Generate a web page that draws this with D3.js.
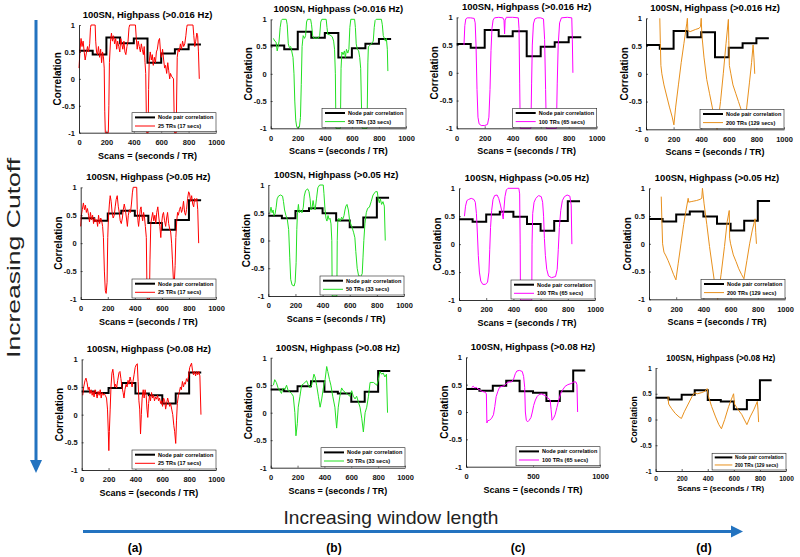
<!DOCTYPE html>
<html><head><meta charset="utf-8">
<script src="https://cdn.jsdelivr.net/npm/d3@7"></script>
<style>
body{margin:0;background:#fff}
svg{display:block}
text{font-family:"Liberation Sans",Arial,sans-serif}
</style>
</head><body>
<svg id="c" width="800" height="557"></svg>
<script>
// ---------------- DATA ----------------
const cutoffs = ["0.016", "0.05", "0.08"];
const windowLabels = ["25 TRs (17 secs)", "50 TRs (33 secs)", "100 TRs (65 secs)", "200 TRs (129 secs)"];
const seriesColors = ["#ff0000", "#22e022", "#ff00ff", "#e8901c"];
const columnLabels = ["(a)", "(b)", "(c)", "(d)"];
const xTicksDefault = [0, 200, 400, 600, 800, 1000];
const xTicksWide = [0, 500, 1000];
const yTicks = [-1, -0.5, 0, 0.5, 1];

// node pair correlation: step starts (scans) and value per step
const stepStarts = [0, 100, 200, 300, 400, 500, 600, 700, 800];
const stepEnd = 890;
const nodeCorr016 = [0.52, 0.45, 0.77, 0.66, 0.75, 0.30, 0.47, 0.55, 0.64];
const nodeCorr05  = [0.445, 0.40, 0.53, 0.58, 0.49, 0.36, 0.24, 0.415, 0.77];
const nodeCorr08  = [0.42, 0.39, 0.48, 0.57, 0.38, 0.35, 0.20, 0.38, 0.76];

// sliding-window correlations [scan, correlation]
const tr25_016 = [[0,0.2],[8,0.55],[15,0.75],[22,0.6],[30,0.7],[38,0.5],[45,0.35],[55,0.5],[62,0.6],[70,0.5],[78,0.65],[84,0.95],[88,1],[118,1],[122,0.7],[128,0.5],[135,0.45],[142,0.6],[150,0.4],[158,0.55],[165,0.3],[172,0.5],[178,0.42],[184,0.2],[188,-0.6],[192,-1],[214,-1],[218,-0.5],[222,0.3],[230,0.7],[237,0.85],[244,0.7],[252,0.8],[260,0.65],[268,0.75],[275,0.55],[282,0.7],[290,0.6],[298,0.5],[305,0.75],[312,0.65],[320,0.55],[328,0.7],[335,0.5],[342,0.45],[350,0.6],[358,0.7],[365,0.95],[370,1],[412,1],[418,0.75],[425,0.55],[432,0.7],[440,0.6],[448,0.5],[455,0.65],[462,0.55],[470,0.45],[476,0.6],[482,0.3],[487,0.1],[491,-0.6],[494,-1],[505,-1],[508,-0.2],[512,0.3],[520,0.5],[528,0.35],[535,0.45],[542,0.25],[550,0.4],[558,0.3],[565,0.5],[572,0.55],[580,0.7],[588,0.75],[595,0.5],[602,0.4],[610,0.55],[618,0.35],[625,0.2],[632,0.25],[640,0.1],[648,0.3],[655,0.15],[662,0.0],[668,0.1],[675,0.05],[690,0.0],[694,-0.6],[697,-1],[710,-1],[713,-0.3],[717,0.4],[724,0.55],[732,0.5],[740,0.65],[748,0.55],[756,0.7],[764,0.6],[772,0.65],[780,0.8],[786,0.95],[790,1],[832,1],[838,0.8],[845,0.6],[852,0.7],[860,0.85],[866,0.8],[872,0.5],[878,0.0]];
const tr50_016 = [[20,0.65],[30,0.6],[40,0.58],[48,0.42],[55,0.5],[62,0.6],[70,0.85],[78,0.98],[85,1],[115,1],[122,0.9],[130,0.55],[138,0.48],[148,0.5],[155,0.42],[165,0.3],[172,0.0],[178,-0.5],[185,-0.85],[192,-0.97],[200,-1],[212,-0.98],[220,-0.8],[226,-0.2],[232,0.5],[240,0.7],[250,0.65],[258,0.7],[265,0.95],[272,1],[295,1],[302,0.9],[310,0.7],[320,0.65],[335,0.66],[350,0.65],[362,0.7],[370,0.95],[378,1],[410,1],[416,0.85],[422,0.72],[432,0.72],[445,0.7],[455,0.68],[465,0.6],[472,0.45],[478,0.0],[482,-1],[515,-1],[520,0.1],[526,0.4],[535,0.35],[545,0.42],[552,0.3],[560,0.45],[570,0.38],[578,0.45],[585,0.85],[592,1],[620,1],[626,0.85],[632,0.55],[640,0.45],[650,0.42],[658,0.3],[665,0.1],[672,-0.7],[676,-1],[712,-1],[718,0.2],[722,0.5],[732,0.52],[745,0.55],[758,0.6],[765,0.85],[772,0.98],[780,1],[818,1],[825,0.9],[832,0.7],[840,0.65],[848,0.6],[855,0.65],[862,0.45],[866,0.05]];
const tr100_016 = [[52,0.5],[58,0.85],[65,0.97],[75,0.99],[100,0.99],[125,0.98],[132,0.9],[138,0.5],[145,-0.3],[152,-0.8],[160,-0.92],[175,-0.95],[200,-0.95],[220,-0.93],[230,-0.8],[238,-0.3],[245,0.4],[252,0.8],[260,0.95],[270,0.99],[300,1],[330,0.99],[338,0.95],[342,0.7],[346,0.95],[355,1],[400,1],[440,0.99],[445,0.8],[450,-0.2],[454,-1],[530,-1],[535,-0.2],[540,0.5],[548,0.88],[558,0.97],[575,0.99],[600,0.99],[620,0.97],[628,0.6],[635,-0.3],[640,-1],[712,-1],[718,-0.2],[725,0.5],[735,0.9],[748,0.99],[790,1],[822,0.99],[826,0.6],[830,0.0]];
const tr200_016 = [[100,1],[104,0.55],[108,0.15],[115,0.0],[130,-0.2],[150,-0.4],[170,-0.6],[190,-0.78],[202,-0.92],[215,-0.6],[235,-0.2],[255,0.2],[275,0.55],[295,0.9],[300,1],[303,0.78],[320,0.76],[340,0.78],[360,0.8],[385,0.82],[395,0.85],[400,1],[405,0.7],[420,0.3],[440,-0.1],[460,-0.35],[480,-0.6],[500,-0.85],[515,-1],[540,-0.5],[560,0.0],[580,0.55],[597,0.98],[600,0.6],[604,0.15],[615,0.0],[630,-0.2],[650,-0.35],[670,-0.5],[690,-0.65],[705,-0.85],[715,-0.95],[730,-0.6],[750,-0.15],[765,0.2],[776,0.52],[782,0.3],[788,0.0]];

const tr25_05 = [[0,0.3],[5,0.5],[12,0.6],[20,0.72],[28,0.6],[35,0.68],[42,0.55],[50,0.62],[58,0.5],[65,0.38],[72,0.55],[80,0.42],[88,0.5],[95,0.35],[102,0.45],[110,0.38],[118,0.42],[125,0.3],[132,0.5],[140,0.35],[148,0.45],[155,0.4],[162,0.3],[168,0.1],[175,-0.5],[182,-0.85],[188,-0.9],[195,-0.7],[200,0.1],[205,0.45],[212,0.7],[218,0.85],[225,0.75],[232,0.55],[240,0.45],[248,0.5],[255,0.65],[262,0.78],[270,0.85],[278,0.65],[285,0.55],[292,0.4],[300,0.35],[308,0.45],[315,0.6],[322,0.7],[330,0.6],[338,0.45],[345,0.3],[352,0.5],[360,0.6],[368,0.55],[375,0.7],[382,0.9],[388,1],[414,1],[418,0.6],[423,0.4],[428,0.3],[434,0.45],[440,0.6],[446,0.65],[452,0.5],[458,0.4],[465,0.55],[472,0.45],[478,0.3],[485,0.1],[489,-0.7],[492,-1],[508,-1],[512,-0.3],[518,0.35],[525,0.45],[532,0.55],[540,0.4],[548,0.5],[555,0.35],[562,0.55],[570,0.65],[578,0.45],[585,0.3],[592,0.1],[598,0.35],[605,0.5],[612,0.55],[620,0.4],[628,0.3],[635,0.45],[642,0.55],[650,0.35],[658,0.25],[665,0.2],[672,0.0],[678,-0.3],[685,-0.65],[692,-0.7],[698,-0.4],[703,0.1],[710,0.4],[716,0.55],[722,0.5],[730,0.6],[738,0.65],[745,0.55],[752,0.6],[760,0.75],[768,0.55],[775,0.5],[782,0.6],[790,0.8],[798,0.92],[805,0.88],[812,0.75],[820,0.85],[828,0.7],[835,0.65],[842,0.8],[850,0.75],[858,0.8],[865,0.6],[872,0.0]];
const tr50_05 = [[12,0.5],[20,0.6],[28,0.5],[35,0.55],[42,0.45],[50,0.48],[58,0.6],[65,0.75],[75,0.8],[90,0.82],[105,0.8],[112,0.7],[120,0.55],[130,0.45],[140,0.38],[150,0.2],[158,-0.3],[165,-0.7],[175,-0.8],[190,-0.82],[198,-0.75],[205,-0.4],[210,0.2],[215,0.5],[222,0.65],[228,0.5],[238,0.55],[248,0.5],[258,0.6],[265,0.8],[275,0.9],[290,0.93],[300,0.88],[308,0.75],[315,0.55],[322,0.58],[330,0.72],[338,0.6],[345,0.55],[355,0.75],[365,0.95],[378,1],[405,1],[410,0.85],[418,0.55],[425,0.4],[432,0.35],[440,0.45],[448,0.38],[455,0.4],[462,0.3],[468,0.0],[471,-1],[505,-1],[508,0.0],[512,0.35],[520,0.4],[530,0.35],[540,0.42],[548,0.38],[558,0.45],[565,0.55],[572,0.62],[580,0.65],[590,0.55],[600,0.35],[615,0.25],[628,0.15],[638,0.05],[645,-0.2],[655,-0.5],[665,-0.63],[680,-0.65],[692,-0.6],[698,-0.3],[704,0.0],[712,0.3],[722,0.5],[732,0.58],[745,0.6],[758,0.7],[772,0.82],[790,0.88],[803,0.88],[810,0.75],[818,0.68],[826,0.75],[835,0.65],[845,0.7],[855,0.62],[862,0.0]];
const tr100_05 = [[40,0.5],[48,0.68],[58,0.78],[70,0.8],[90,0.82],[110,0.8],[120,0.75],[128,0.55],[135,0.2],[142,-0.2],[150,-0.5],[160,-0.66],[175,-0.72],[195,-0.72],[210,-0.68],[220,-0.5],[226,-0.1],[232,0.3],[240,0.6],[250,0.8],[262,0.87],[280,0.88],[292,0.82],[305,0.7],[318,0.55],[325,0.45],[330,0.62],[338,0.85],[348,0.97],[360,1],[440,1],[446,0.9],[450,0.0],[452,-1],[535,-1],[537,0.0],[542,0.55],[552,0.75],[565,0.82],[585,0.87],[605,0.85],[615,0.75],[622,0.5],[628,0.1],[635,-0.2],[645,-0.45],[658,-0.57],[680,-0.6],[710,-0.58],[722,-0.45],[730,-0.1],[738,0.3],[748,0.6],[760,0.78],[775,0.85],[795,0.88],[815,0.86],[825,0.7],[830,0.0]];
const tr200_05 = [[90,0.85],[95,0.4],[100,0.0],[110,-0.15],[125,-0.22],[140,-0.3],[160,-0.42],[180,-0.55],[198,-0.65],[215,-0.35],[235,0.0],[255,0.35],[272,0.6],[288,0.82],[292,0.75],[310,0.76],[330,0.77],[350,0.78],[375,0.8],[388,0.82],[393,1],[405,0.72],[425,0.35],[445,-0.05],[465,-0.4],[485,-0.75],[505,-1],[530,-0.55],[555,-0.05],[575,0.4],[590,0.6],[593,0.1],[600,0.0],[620,-0.2],[640,-0.32],[660,-0.45],[680,-0.55],[698,-0.63],[720,-0.3],[740,0.0],[760,0.25],[780,0.45],[785,0.2],[790,0.0]];

const tr25_08 = [[8,0.35],[15,0.5],[25,0.62],[32,0.66],[40,0.58],[48,0.45],[55,0.5],[62,0.38],[70,0.45],[78,0.35],[85,0.42],[92,0.32],[100,0.45],[108,0.38],[115,0.3],[122,0.42],[130,0.35],[138,0.45],[145,0.3],[152,0.4],[160,0.35],[168,0.38],[175,0.35],[185,0.3],[192,0.1],[198,-0.3],[202,-0.65],[206,-0.3],[212,0.1],[218,0.5],[225,0.75],[232,0.82],[238,0.7],[245,0.5],[252,0.55],[260,0.48],[268,0.62],[278,0.76],[285,0.78],[292,0.65],[300,0.5],[308,0.4],[315,0.3],[322,0.45],[330,0.55],[338,0.5],[345,0.62],[352,0.55],[360,0.68],[368,0.6],[375,0.5],[382,0.6],[390,0.72],[398,0.85],[406,0.9],[414,0.92],[420,0.6],[426,0.25],[432,0.1],[438,-0.35],[444,0.0],[450,0.3],[458,0.45],[465,0.3],[472,0.45],[480,0.35],[486,0.1],[492,-0.05],[498,0.2],[505,0.35],[512,0.25],[520,0.4],[528,0.3],[535,0.35],[542,0.25],[550,0.32],[558,0.28],[565,0.35],[572,0.25],[580,0.3],[588,0.2],[595,0.25],[602,0.15],[610,0.3],[618,0.25],[625,0.1],[632,0.2],[640,0.3],[648,0.22],[655,0.15],[662,0.2],[670,0.1],[678,0.0],[686,-0.2],[692,-0.3],[700,-0.52],[706,-0.1],[712,0.2],[720,0.35],[728,0.42],[735,0.5],[742,0.45],[750,0.6],[758,0.5],[765,0.58],[772,0.55],[780,0.65],[788,0.6],[796,0.7],[804,0.85],[812,0.9],[818,0.93],[825,0.8],[832,0.72],[840,0.78],[848,0.7],[856,0.78],[864,0.72],[872,0.78],[880,0.7],[888,0.0]];
const tr50_08 = [[20,0.5],[30,0.6],[42,0.55],[55,0.45],[68,0.4],[80,0.35],[92,0.45],[105,0.42],[118,0.5],[130,0.4],[142,0.38],[155,0.35],[168,0.3],[180,0.0],[188,-0.42],[198,-0.2],[205,0.1],[218,0.3],[230,0.5],[242,0.52],[255,0.55],[268,0.58],[280,0.5],[292,0.45],[305,0.5],[322,0.7],[330,0.65],[342,0.5],[355,0.3],[368,0.1],[380,0.25],[392,0.45],[405,0.6],[417,0.84],[425,0.75],[438,0.6],[448,0.5],[462,0.3],[478,0.1],[491,-0.28],[503,0.1],[515,0.3],[528,0.45],[540,0.4],[565,0.35],[590,0.3],[603,0.4],[615,0.3],[628,0.25],[640,0.3],[652,0.2],[665,0.1],[678,-0.1],[690,-0.35],[703,0.0],[715,0.1],[728,0.3],[740,0.55],[765,0.55],[790,0.5],[802,0.6],[813,0.75],[826,0.7],[838,0.72],[850,0.65],[862,0.7],[870,0.0]];
const tr100_08 = [[42,0.45],[55,0.47],[65,0.44],[78,0.45],[90,0.42],[105,0.4],[118,0.38],[130,0.37],[145,0.36],[152,0.33],[156,-0.2],[162,-0.16],[175,-0.15],[190,-0.12],[205,-0.05],[215,0.1],[225,0.28],[238,0.38],[250,0.45],[270,0.47],[285,0.48],[300,0.52],[320,0.55],[340,0.55],[355,0.6],[368,0.7],[380,0.75],[400,0.76],[420,0.74],[430,0.65],[438,0.45],[443,0.0],[450,-0.15],[460,-0.18],[472,-0.15],[485,-0.1],[495,0.0],[505,0.12],[518,0.22],[530,0.28],[545,0.32],[565,0.33],[590,0.3],[610,0.26],[628,0.22],[635,0.05],[642,-0.15],[652,-0.12],[665,-0.05],[678,0.08],[690,0.2],[705,0.33],[720,0.4],[740,0.47],[760,0.5],[785,0.52],[805,0.55],[820,0.55],[828,0.5],[833,0.0]];
const tr200_08 = [[95,0.45],[100,0.3],[120,0.22],[150,0.12],[180,0.05],[198,0.02],[220,0.15],[250,0.3],[280,0.45],[300,0.52],[320,0.5],[350,0.52],[380,0.55],[395,0.6],[405,0.45],[430,0.25],[460,0.05],[485,-0.1],[505,-0.18],[530,0.0],[560,0.25],[590,0.45],[598,0.5],[605,0.3],[630,0.2],[660,0.1],[690,-0.05],[700,-0.1],[725,0.05],[755,0.2],[780,0.35],[785,0.2],[790,-0.05]];

const nodeByRow = [nodeCorr016, nodeCorr05, nodeCorr08];
const seriesGrid = [
  [tr25_016, tr50_016, tr100_016, tr200_016],
  [tr25_05,  tr50_05,  tr100_05,  tr200_05],
  [tr25_08,  tr50_08,  tr100_08,  tr200_08]
];

// ---------------- LAYOUT ----------------
// plot boxes [left, right, top, bottom]
const boxes = [
  [[79,216,25,132.7],[270.7,406,19.3,128.3],[456.7,596.7,17.3,128.3],[646,784,18.3,129.3]],
  [[80.7,216,187.3,299],[268.3,404,185,296],[459,595,188.3,300],[649,785,188.3,299.3]],
  [[81.7,216,359.3,470],[270.7,405,357.7,467.7],[466,600,357.3,466.7],[655.6,786,368,471]]
];

const svg = d3.select("#c");

function drawPanel(r, c) {
  const [x0, x1, y0, y1] = boxes[r][c];
  const small = (r === 2 && c === 3);
  const k = small ? 0.88 : 1;
  const x = d3.scaleLinear().domain([0, 1000]).range([x0, x1]);
  const y = d3.scaleLinear().domain([-1, 1]).range([y1, y0]);
  const g = svg.append("g");
  const line = d3.line().x(d => x(d[0])).y(d => y(d[1]));

  const node = nodeByRow[r];
  const stepPts = stepStarts.map((s, i) => [s, node[i]]).concat([[stepEnd, node[node.length - 1]]]);
  g.append("path").datum(stepPts)
    .attr("d", d3.line().curve(d3.curveStepAfter).x(d => x(d[0])).y(d => y(d[1])))
    .attr("fill", "none").attr("stroke", "#000").attr("stroke-width", 2);

  g.append("path").datum(seriesGrid[r][c])
    .attr("d", line).attr("fill", "none")
    .attr("stroke", seriesColors[c]).attr("stroke-width", 1).attr("stroke-linejoin", "round");

  const xTicks = (r === 2 && c === 2) ? xTicksWide : xTicksDefault;
  const ax = g.append("g").attr("transform", `translate(0,${y1})`)
    .call(d3.axisBottom(x).tickValues(xTicks).tickFormat(d => String(d))
      .tickSizeInner(-2).tickSizeOuter(0).tickPadding(small ? 5 : 7));
  const ay = g.append("g").attr("transform", `translate(${x0},0)`)
    .call(d3.axisLeft(y).tickValues(yTicks).tickFormat(d => String(d))
      .tickSizeInner(-2).tickSizeOuter(0).tickPadding(4));
  [ax, ay].forEach(a => {
    a.select(".domain").attr("stroke", "#000").attr("stroke-width", 0.8);
    a.selectAll(".tick line").attr("stroke", "#000").attr("stroke-width", 0.6);
    a.selectAll("text").attr("font-size", 7.5 * k).attr("font-weight", "bold")
      .attr("fill", "#111").attr("font-family", '"Liberation Sans",Arial,sans-serif');
  });

  g.append("text").attr("x", (x0 + x1) / 2).attr("y", y0 - 7)
    .attr("text-anchor", "middle").attr("font-size", 9.5 * k).attr("font-weight", "bold")
    .text(`100SN, Highpass (>${cutoffs[r]} Hz)`);
  g.append("text").attr("x", (x0 + x1) / 2).attr("y", y1 + (small ? 20 : 26))
    .attr("text-anchor", "middle").attr("font-size", 9 * k).attr("font-weight", "bold")
    .text("Scans = (seconds / TR)");
  g.append("text").attr("transform", `translate(${x0 - 22},${(y0 + y1) / 2}) rotate(-90)`)
    .attr("text-anchor", "middle").attr("dy", "0.35em")
    .attr("font-size", 10 * k).attr("font-weight", "bold").text("Correlation");

  const lw = 84 * k, lh = 19 * k;
  const lx = x1 - lw, ly = y1 - lh - 1;
  const lg = g.append("g");
  lg.append("rect").attr("x", lx).attr("y", ly).attr("width", lw).attr("height", lh)
    .attr("fill", "#fff").attr("stroke", "#222").attr("stroke-width", 0.6);
  const rows = [["Node pair correlation", "#000", 2], [windowLabels[c], seriesColors[c], 1]];
  rows.forEach((row, i) => {
    const cy = ly + (4.7 + i * 8.6) * k;
    lg.append("line").attr("x1", lx + 3 * k).attr("x2", lx + 23 * k).attr("y1", cy).attr("y2", cy)
      .attr("stroke", row[1]).attr("stroke-width", row[2]);
    lg.append("text").attr("x", lx + 26 * k).attr("y", cy + 2)
      .attr("font-size", 5.5 * k).attr("font-weight", "bold").text(row[0]);
  });
}

for (let r = 0; r < 3; r++) for (let c = 0; c < 4; c++) drawPanel(r, c);

// ---------------- ANNOTATIONS ----------------
const blue = "#2373c0";
svg.append("line").attr("x1", 36).attr("x2", 36).attr("y1", 20).attr("y2", 462)
  .attr("stroke", blue).attr("stroke-width", 3);
svg.append("path").attr("d", "M30,460 L42,460 L36,473 Z").attr("fill", blue);
svg.append("line").attr("x1", 83).attr("x2", 733).attr("y1", 531.5).attr("y2", 531.5)
  .attr("stroke", blue).attr("stroke-width", 3);
svg.append("path").attr("d", "M731,525.5 L731,537.5 L743,531.5 Z").attr("fill", blue);

svg.append("text").attr("transform", "translate(13,258) rotate(-90)")
  .attr("text-anchor", "middle").attr("dy", "0.35em")
  .attr("font-family", "Lato, 'Open Sans', sans-serif").attr("font-size", 19).attr("font-weight", 300)
  .attr("textLength", 200).attr("lengthAdjust", "spacingAndGlyphs")
  .attr("fill", "#222").text("Increasing Cutoff");
svg.append("text").attr("x", 391).attr("y", 524)
  .attr("text-anchor", "middle")
  .attr("font-family", "Lato, 'Open Sans', sans-serif").attr("font-size", 19).attr("font-weight", 300)
  .attr("textLength", 215).attr("lengthAdjust", "spacingAndGlyphs")
  .attr("fill", "#222").text("Increasing window length");

const colLabelX = [135, 334, 518, 704];
columnLabels.forEach((t, i) => {
  svg.append("text").attr("x", colLabelX[i]).attr("y", 552).attr("text-anchor", "middle")
    .attr("font-size", 12).attr("font-weight", "bold").text(t);
});
</script>
</body></html>
